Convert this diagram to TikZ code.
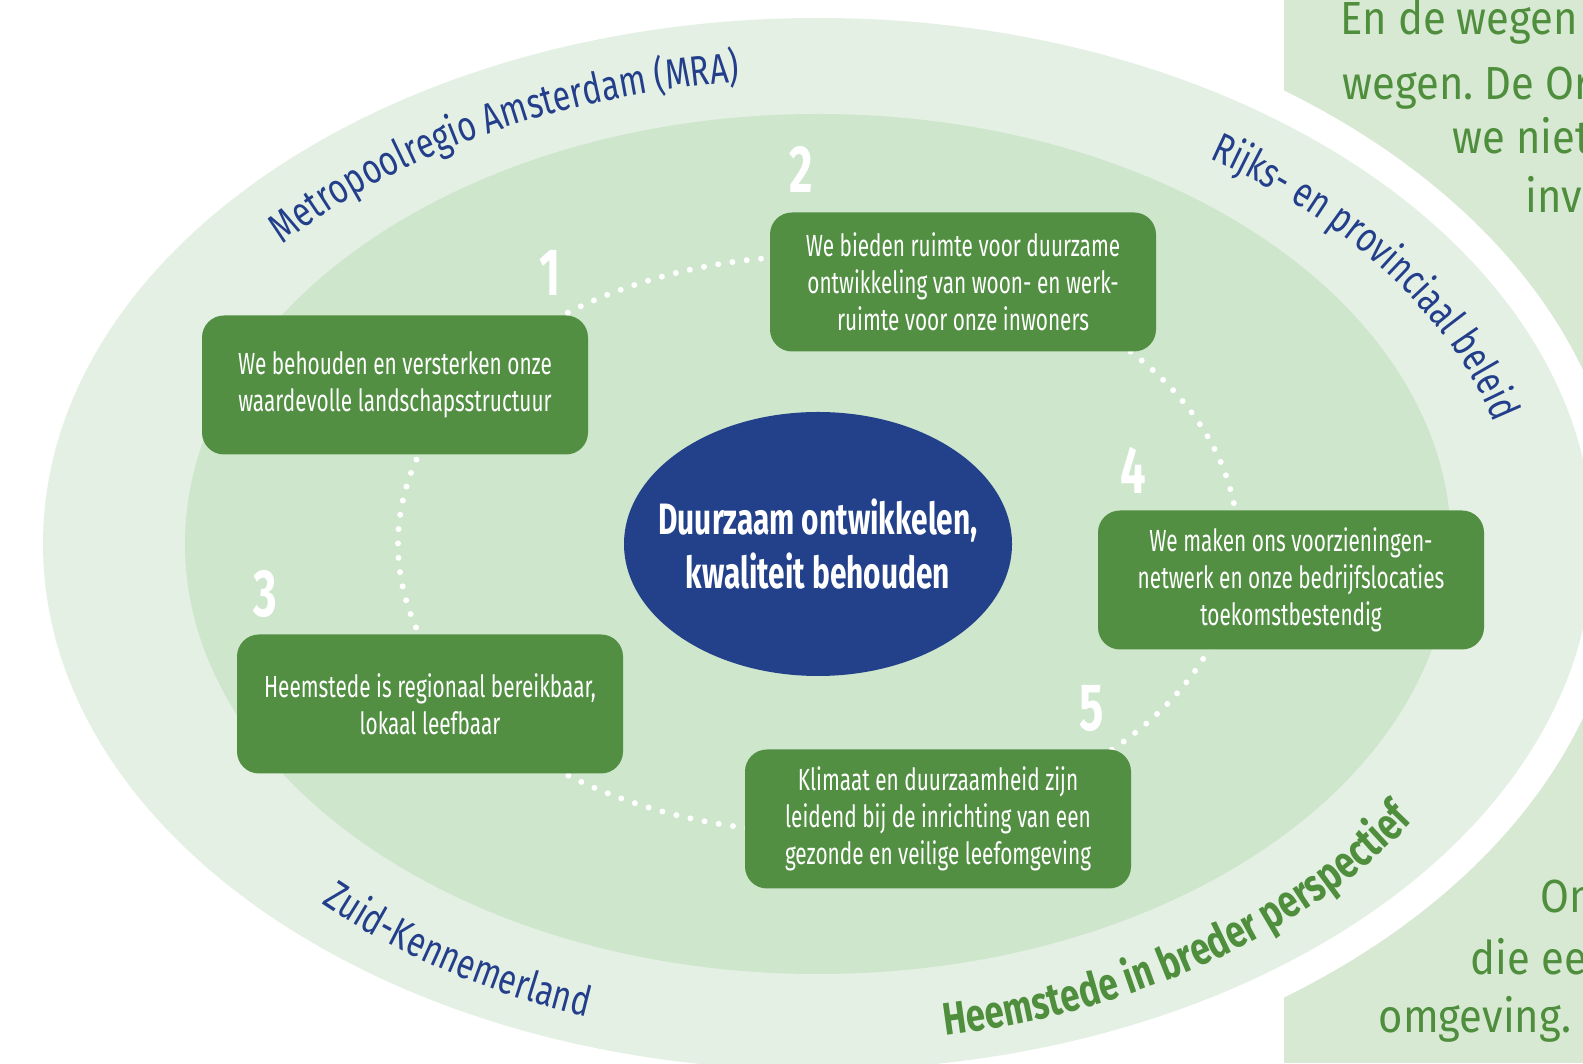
\documentclass[tikz,border=0pt]{standalone}
\usepackage{fontspec}
\usetikzlibrary{decorations.text}
\frenchspacing
\newfontfamily\condfont[FakeStretch=0.68]{Fira Sans}
\newfontfamily\arcfont[FakeStretch=0.76]{Fira Sans}
\newfontfamily\panelfont[FakeStretch=0.90]{Fira Sans}
\newcommand{\regiofont}{\arcfont\fontsize{12}{14}\selectfont}
\newcommand{\breedfont}{\arcfont\bfseries\fontsize{13}{16}\selectfont}
\definecolor{bandlicht}{HTML}{E4F0E3}
\definecolor{bandmidden}{HTML}{CDE6CC}
\definecolor{paneel}{HTML}{D7E9D3}
\definecolor{doosgroen}{HTML}{528F43}
\definecolor{kernblauw}{HTML}{23418A}
\definecolor{regioblauw}{HTML}{233F8C}
\definecolor{tekstgroen}{HTML}{4E8E3C}
\begin{document}
\begin{tikzpicture}[
    doos/.style={fill=doosgroen, rounded corners=0.22cm, minimum width=3.86cm, minimum height=1.39cm,
        align=center, text=white, inner sep=0pt, font=\condfont\fontsize{8.7}{10.5}\selectfont},
    nummer/.style={text=white, inner sep=0pt, font=\condfont\bfseries\fontsize{19}{19}\selectfont},
    stippel/.style={white, line width=1.7pt, line cap=round, dash pattern=on 0pt off 4.1pt},
    kerntekst/.style={text=white, align=center, inner sep=0pt, font=\condfont\bfseries\fontsize{12.5}{15.3}\selectfont},
    paneeltekst/.style={anchor=base west, text=tekstgroen, inner sep=0pt, font=\panelfont\fontsize{13.2}{16}\selectfont},
]
    % 画布
    \clip (0,0) rectangle (15.83,10.63);
    \coordinate (C) at (8.18,5.19);

    % 背景
    \fill[paneel] (12.84,0) rectangle (15.83,10.63);
    \fill[white] (C) ellipse [x radius=8.05, y radius=5.56];
    \fill[bandlicht] (C) ellipse [x radius=7.75, y radius=5.26];
    \fill[bandmidden] (C) ellipse [x radius=6.33, y radius=4.30];

    % 虚线圈上的点
    \path (C) ++(145:4.2 and 2.88) coordinate (r1);
    \path (C) ++(70:4.2 and 2.88) coordinate (r2);
    \path (C) ++(215:4.2 and 2.88) coordinate (r3);
    \path (C) ++(-7:4.2 and 2.88) coordinate (r4);
    \path (C) ++(-72:4.2 and 2.88) coordinate (r5);

    % 画连接的虚线
    \draw[stippel] (r1) arc[start angle=145, end angle=70, x radius=4.2, y radius=2.88];
    \draw[stippel] (r2) arc[start angle=70, end angle=-7, x radius=4.2, y radius=2.88];
    \draw[stippel] (r4) arc[start angle=-7, end angle=-72, x radius=4.2, y radius=2.88];
    \draw[stippel] (r5) arc[start angle=-72, end angle=-145, x radius=4.2, y radius=2.88];
    \draw[stippel] (r3) arc[start angle=215, end angle=145, x radius=4.2, y radius=2.88];

    % 设置节点
    \node[doos] (b1) at (3.95,6.78) {We behouden en versterken onze\\waardevolle landschapsstructuur};
    \node[doos] (b2) at (9.63,7.81) {We bieden ruimte voor duurzame\\ontwikkeling van woon- en werk-\\ruimte voor onze inwoners};
    \node[doos] (b3) at (4.30,3.59) {Heemstede is regionaal bereikbaar,\\lokaal leefbaar};
    \node[doos] (b4) at (12.91,4.83) {We maken ons voorzieningen-\\netwerk en onze bedrijfslocaties\\toekomstbestendig};
    \node[doos] (b5) at (9.38,2.44) {Klimaat en duurzaamheid zijn\\leidend bij de inrichting van een\\gezonde en veilige leefomgeving};

    \node[nummer] (n1) at (5.50,7.90) {1};
    \node[nummer] (n2) at (8.01,8.94) {2};
    \node[nummer] (n3) at (2.65,4.69) {3};
    \node[nummer] (n4) at (11.33,5.93) {4};
    \node[nummer] (n5) at (10.92,3.54) {5};

    % 中心
    \fill[kernblauw] (C) ellipse [x radius=1.94, y radius=1.32];
    \node[kerntekst] (kern) at (C) {Duurzaam ontwikkelen,\\kwaliteit behouden};

    % 圈上的文字
    \path[decorate, decoration={text along path, text align=left, text color=regioblauw,
        text={|\regiofont|Metropoolregio Amsterdam (MRA)}}]
        (C) ++(139.9:7.00 and 4.65) arc[start angle=139.9, end angle=80, x radius=7.00, y radius=4.65];
    \path[decorate, decoration={text along path, text align=left, text color=regioblauw,
        text={|\regiofont|Rijks- en provinciaal beleid}}]
        (C) ++(56:7.00 and 4.65) arc[start angle=56, end angle=0, x radius=7.00, y radius=4.65];
    \path[decorate, decoration={text along path, text align=left, text color=regioblauw,
        text={|\regiofont|Zuid-Kennemerland}}]
        (C) ++(226:7.15 and 5.00) arc[start angle=226, end angle=265, x radius=7.15, y radius=5.00];
    \path[decorate, decoration={text along path, text align=left, text color=tekstgroen,
        text={|\breedfont|Heemstede in breder perspectief}}]
        (C) ++(280.3:7.15 and 5.00) arc[start angle=280.3, end angle=340, x radius=7.15, y radius=5.00];

    % 右边的文字
    \node[paneeltekst] (p1) at (13.40,10.28) {En de wegen};
    \node[paneeltekst] (p2) at (13.42,9.63) {wegen. De Or};
    \node[paneeltekst] (p3) at (14.52,9.09) {we niet};
    \node[paneeltekst] (p4) at (15.25,8.50) {inv};
    \node[paneeltekst] (p5) at (15.40,1.50) {On};
    \node[paneeltekst] (p6) at (14.70,0.88) {die ee};
    \node[paneeltekst] (p7) at (13.78,0.30) {omgeving.};
\end{tikzpicture}
\end{document}
